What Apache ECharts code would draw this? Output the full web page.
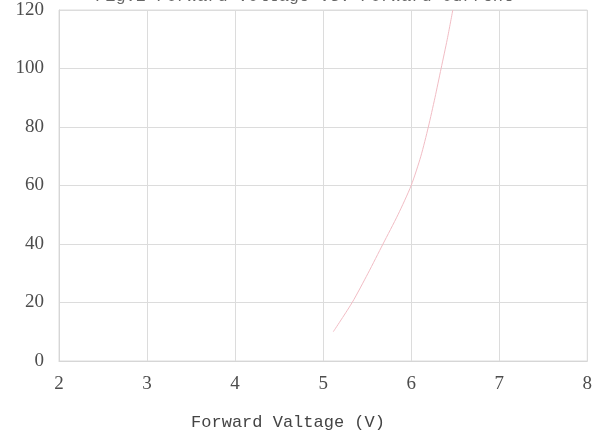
<!DOCTYPE html>
<html>
<head>
<meta charset="utf-8">
<script src="https://cdn.jsdelivr.net/npm/echarts@6/dist/echarts.min.js"></script>
<style>
  html, body { margin: 0; padding: 0; background: #fff; }
  #chart { width: 595px; height: 437px; }
</style>
</head>
<body>
<div id="chart"></div>
<script>
// Forward voltage (V) against forward current (mA)
const voltage = [5.115, 5.33, 5.51, 5.68, 5.85, 6.00, 6.11, 6.195, 6.27, 6.34, 6.41, 6.473];
const current = [10, 20, 30, 40, 50, 60, 70, 80, 90, 100, 110, 120];

const xTicks = { min: 2, max: 8, step: 1 };
const yTicks = { min: 0, max: 120, step: 20 };

const titleText = 'Fig.2 Forward Voltage vs. Forward Current';
const xName = 'Forward Valtage (V)';

const points = voltage.map((v, i) => [v, current[i]]);

const tickFont = { color: '#4d4d4d', fontFamily: 'Liberation Serif', fontSize: 19 };

const chart = echarts.init(document.getElementById('chart'));
chart.setOption({
  backgroundColor: '#fff',
  animation: false,
  grid: { left: 59, right: 7, top: 10, bottom: 76, show: true, borderColor: '#dcdcdc', borderWidth: 1 },
  xAxis: {
    type: 'value',
    min: xTicks.min, max: xTicks.max, interval: xTicks.step,
    axisLine: { show: true, lineStyle: { color: '#d6d6d6' } },
    axisTick: { show: false },
    splitLine: { show: true, lineStyle: { color: '#dcdcdc' } },
    axisLabel: Object.assign({ margin: 14 }, tickFont)
  },
  yAxis: {
    type: 'value',
    min: yTicks.min, max: yTicks.max, interval: yTicks.step,
    axisLine: { show: true, lineStyle: { color: '#d6d6d6' } },
    axisTick: { show: false },
    splitLine: { show: true, lineStyle: { color: '#dcdcdc' } },
    axisLabel: Object.assign({ margin: 15 }, tickFont)
  },
  graphic: [
    {
      type: 'text', left: 300 - 205, top: -12,
      style: { text: titleText, fill: '#666', font: '17px "Liberation Mono"' }
    },
    {
      type: 'text', x: 288, y: 422,
      style: { text: xName, fill: '#444', font: '17px "Liberation Mono"', align: 'center', verticalAlign: 'middle' }
    }
  ],
  series: [{
    type: 'line',
    data: points,
    smooth: 0.25,
    symbol: 'none',
    clip: true,
    lineStyle: { color: '#f1bcc4', width: 1 }
  }]
});
</script>
</body>
</html>
